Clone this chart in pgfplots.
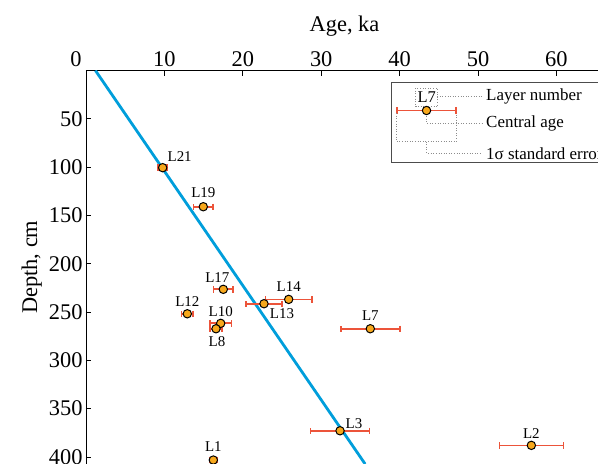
\documentclass[border=0pt]{standalone}
\usepackage{fontspec}
\setmainfont{Liberation Serif}
\usepackage{pgfplots}
\pgfplotsset{compat=1.18}
\definecolor{lineblue}{RGB}{0,158,219}
\definecolor{errred}{RGB}{236,84,58}
\definecolor{ptorange}{RGB}{247,168,28}
\tikzset{lbl/.style={font=\fontsize{15}{15}\selectfont, inner sep=0pt}}
\pgfplotsset{ptstyle/.style={only marks, mark=*, mark size=4.2bp,
    mark options={draw=black, fill=ptorange, line width=1bp},
    error bars/.cd, x dir=both, x explicit,
    error bar style={draw=errred, color=errred, line width=1.7bp},
    error mark options={draw=errred, color=errred, line width=1.5bp, mark size=3.2bp, rotate=90}}}
\begin{document}
\begin{tikzpicture}
\begin{axis}[
  scale only axis, width=512bp, height=393.5bp,
  xmin=0, xmax=65.3, ymin=0, ymax=407.3,
  y dir=reverse,
  axis x line*=top, axis y line*=left,
  xtick={0,10,...,60}, ytick={50,100,...,400},
  xticklabels={\makebox[0pt][r]{0\kern4.5bp},10,20,30,40,50,60},
  tick align=inside, major tick length=5bp,
  tick style={black, line width=0.8bp},
  axis line style={line width=0.8bp},
  xlabel={Age, ka}, ylabel={Depth, cm},
  xlabel style={at={(axis description cs:0.505,1)}, anchor=base, yshift=39bp},
  ticklabel style={font=\fontsize{22.5}{22.5}\selectfont},
  label style={font=\fontsize{22.5}{26}\selectfont},
  /pgf/number format/assume math mode=true,
  clip marker paths=false,
]
\addplot[lineblue, line width=2.8bp] coordinates {(1.2,0) (35.6,407.3)};

\addplot[ptstyle] table[x=x, y=y, x error=ex] {
x     y      ex
9.78  100.6  0.57
14.96 141.0  1.24
17.51 226.5  1.24
25.85 236.9  2.97
22.70 241.4  2.27
12.92 251.8  0.75
17.18 261.7  1.38
16.58 267.3  0.77
36.26 267.3  3.76
32.40 372.9  3.74
56.80 388.0  4.08
16.24 403.2  0.5
};

% legend sample
\addplot[ptstyle] coordinates {(43.43,41.4) +- (3.78,0)};

% point labels
\node[lbl, xshift=17bp, yshift=11bp] at (axis cs:9.78,100.6) {L21};
\node[lbl, yshift=14bp] at (axis cs:14.96,141.0) {L19};
\node[lbl, xshift=-6bp, yshift=12bp] at (axis cs:17.51,226.5) {L17};
\node[lbl, yshift=13bp] at (axis cs:25.85,236.9) {L14};
\node[lbl, xshift=18bp, yshift=-10bp] at (axis cs:22.70,241.4) {L13};
\node[lbl, yshift=12bp] at (axis cs:12.92,251.8) {L12};
\node[lbl, yshift=12bp] at (axis cs:17.18,261.7) {L10};
\node[lbl, xshift=1bp, yshift=-13bp] at (axis cs:16.58,267.3) {L8};
\node[lbl, yshift=13bp] at (axis cs:36.26,267.3) {L7};
\node[lbl, xshift=14bp, yshift=7bp] at (axis cs:32.40,372.9) {L3};
\node[lbl, yshift=12bp] at (axis cs:56.80,388.0) {L2};
\node[lbl, yshift=13bp] at (axis cs:16.24,403.2) {L1};

% legend box
\draw[black!70, line width=0.7bp] (axis cs:70,12.2) -- (axis cs:39.0,12.2) -- (axis cs:39.0,94.7) -- (axis cs:70,94.7);
\draw[black!45, dotted, line width=0.6bp] (axis cs:42.05,18.4) rectangle (axis cs:44.8,37.5);
\node[font=\fontsize{16.5}{16.5}\selectfont, inner sep=0pt] at (axis cs:43.46,27.6) {L7};
\draw[black!45, dotted, line width=0.6bp] (axis cs:44.8,27.1) -- (axis cs:50.47,27.1);
\node[anchor=west, font=\fontsize{17}{17}\selectfont, inner sep=0pt] at (axis cs:51.02,27.1) {Layer number};
\draw[black!45, dotted, line width=0.6bp] (axis cs:43.46,47.1) -- (axis cs:43.46,54.7) -- (axis cs:50.47,54.7);
\node[anchor=west, font=\fontsize{17}{17}\selectfont, inner sep=0pt] at (axis cs:51.02,54.7) {Central age};
\draw[black!45, dotted, line width=0.6bp] (axis cs:39.63,44.3) -- (axis cs:39.63,73.7) -- (axis cs:47.19,73.7) -- (axis cs:47.19,44.3);
\draw[black!45, dotted, line width=0.6bp] (axis cs:43.46,73.7) -- (axis cs:43.46,85.7) -- (axis cs:50.47,85.7);
\node[anchor=west, font=\fontsize{17}{17}\selectfont, inner sep=0pt] at (axis cs:51.02,85.7) {1σ standard error};
\end{axis}
\pgfresetboundingbox
\path ([shift={(-86bp,70.5bp)}]current axis.north west) rectangle ++(598bp,-464bp);
\end{tikzpicture}
\end{document}
